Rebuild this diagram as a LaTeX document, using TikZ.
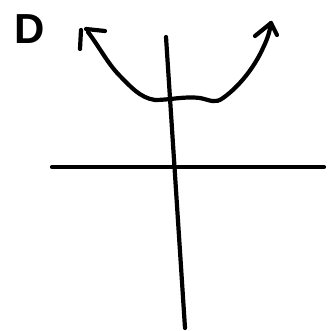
\documentclass[tikz,border=0pt]{standalone}
\usepackage{fontspec}
\setmainfont{Liberation Sans}
\begin{document}
\begin{tikzpicture}[x=1pt,y=-1pt,
  ink/.style={line width=4.2pt,line cap=round,line join=round,black}]
\useasboundingbox (0,0) rectangle (332,330);
% label
\node[font=\fontsize{42}{42}\selectfont\bfseries, inner sep=0pt, anchor=center] (lbl) at (30,29) {D};
% axes
\coordinate (vtop) at (166,37);
\coordinate (vbot) at (185,328);
\coordinate (hl) at (52,167);
\coordinate (hr) at (324,167);
\draw[ink] (vtop) -- (vbot);
\draw[ink] (hl) -- (hr);
% curve
\coordinate (ltip) at (88,32);
\coordinate (rtip) at (271,23);
\draw[ink] (ltip) .. controls (100,48) and (108,64) .. (120,76)
  .. controls (130,86) and (140,98) .. (155,100)
  .. controls (170,100) and (185,96) .. (200,98)
  .. controls (210,100) and (215,104) .. (223,98)
  .. controls (240,86) and (255,66) .. (263,48)
  .. controls (268,38) and (270,30) .. (rtip);
% arrowheads (hand drawn)
\draw[ink] (81,30) -- (80,49);
\draw[ink] (86,29) -- (105,31);
\draw[ink] (255,36) -- (rtip) -- (277,35);
\end{tikzpicture}
\end{document}
